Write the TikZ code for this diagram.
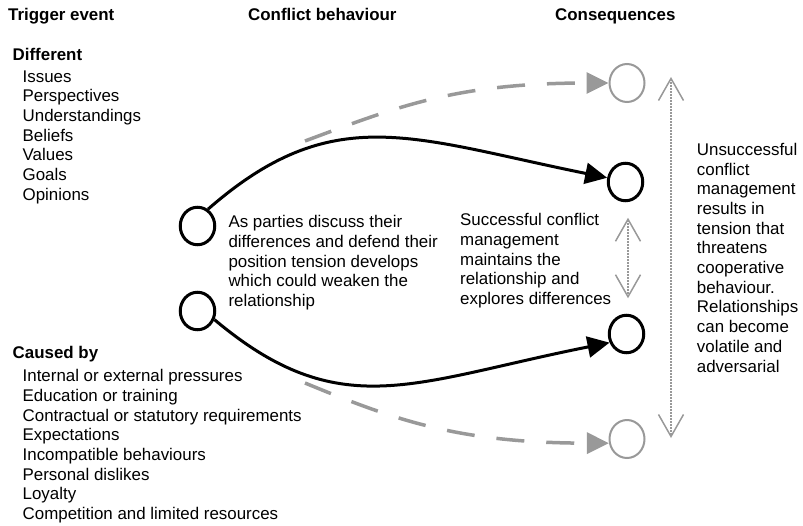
\documentclass[tikz,border=0pt]{standalone}
\usepackage{fontspec}
\setmainfont{Liberation Sans}
\usetikzlibrary{arrows.meta,shapes.geometric}
\definecolor{linegray}{HTML}{999999}
\begin{document}
\begin{tikzpicture}[x=1pt,y=-1pt,
  txt/.style={inner sep=0pt, anchor=base west, align=left,
    font=\fontsize{16.9}{19.7}\selectfont},
  head/.style={txt, font=\fontsize{16.9}{19.7}\selectfont\bfseries},
  bubble/.style={ellipse, draw=black, line width=3pt, minimum width=34.5pt,
    minimum height=37.5pt, inner sep=0pt},
  ghost/.style={ellipse, draw=linegray, line width=2pt, minimum width=35pt,
    minimum height=38pt, inner sep=0pt},
  flow/.style={line width=3pt, -{Triangle[length=22pt,width=21pt]}},
  drift/.style={linegray, line width=3.5pt, dash pattern=on 28pt off 22pt,
    -{Triangle[length=22pt,width=21pt]}},
  span/.style={linegray, line width=2pt, dash pattern=on 1.5pt off 1.5pt,
    {Straight Barb[length=22pt,width=25pt,line width=1.5pt]}-{Straight Barb[length=22pt,width=25pt,line width=1.5pt]}}
]
\useasboundingbox (0,0) rectangle (803,525);

% column headings
\node[head] (h1) at (8,20) {Trigger event};
\node[head] (h2) at (248,20) {Conflict behaviour};
\node[head] (h3) at (555,20) {Consequences};

% trigger lists (anchored at the baseline of their last line)
\node[head] (dif) at (12.5,60) {Different};
\node[txt] (difl) at (22.5,200.2) {Issues\\Perspectives\\Understandings\\Beliefs\\Values\\Goals\\Opinions};
\node[head] (cau) at (12.5,358) {Caused by};
\node[txt] (caul) at (22.5,519.6) {Internal or external pressures\\Education or training\\Contractual or statutory requirements\\Expectations\\Incompatible behaviours\\Personal dislikes\\Loyalty\\Competition and limited resources};

% states
\node[bubble] (lt) at (197.5,226) {};
\node[bubble] (lb) at (197.5,311) {};
\node[bubble] (r1) at (625.5,182) {};
\node[bubble] (r2) at (626.5,334) {};
\node[ghost] (g1) at (627,83) {};
\node[ghost] (g2) at (627,439) {};

% explanatory texts
\node[txt] (mid) at (228.3,306.5) {As parties discuss their\\differences and defend their\\position tension develops\\which could weaken the\\relationship};
\node[txt] (ok) at (460,304.5) {Successful conflict\\management\\maintains the\\relationship and\\explores differences};
\node[txt] (bad) at (696.7,372) {Unsuccessful\\conflict\\management\\results in\\tension that\\threatens\\cooperative\\behaviour.\\Relationships\\can become\\volatile and\\adversarial};

% dashed branches towards unsuccessful outcomes
\coordinate (ft) at (305,141);
\coordinate (fb) at (305,383);
\draw[drift] (ft) .. controls (399,106) and (457,83) .. (g1.west);
\draw[drift] (fb) .. controls (397,421) and (460,443) .. (g2.193);

% main conflict paths
\draw[flow] (lt.58) .. controls (333,100) and (411,138) .. (r1.167);
\draw[flow] (lb.-27) .. controls (340,425) and (412,382) .. (r2.207);

% dotted ranges
\draw[span, shorten <=15.5pt, shorten >=15.5pt] ([xshift=2.5pt]r1.south) -- ([xshift=1.5pt]r2.north);
\coordinate (ut) at (671,77);
\coordinate (ub) at (671,438);
\draw[span] (ut) -- (ub);
\end{tikzpicture}
\end{document}
